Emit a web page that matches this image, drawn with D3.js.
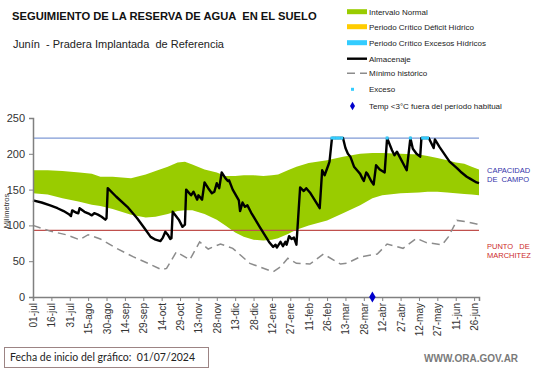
<!DOCTYPE html>
<html><head><meta charset="utf-8">
<script src="https://cdn.jsdelivr.net/npm/d3@7"></script>
<style>
html,body{margin:0;padding:0;background:#fff;}
svg{display:block;font-family:Arial,"Liberation Sans",sans-serif;}
svg text{white-space:pre;}
</style></head>
<body><svg id="c" width="541" height="368"></svg>
<script>
// ---- data ----
const tickDays = [0,15,30,45,60,75,90,105,120,135,150,165,180,195,210,225,240,255,270,285,300,315,330,345,360];
const tickLabels = ["01-jul","16-jul","31-jul","15-ago","30-ago","14-sep","29-sep","14-oct","29-oct","13-nov","28-nov","13-dic","28-dic","12-ene","27-ene","11-feb","26-feb","13-mar","28-mar","12-abr","27-abr","12-may","27-may","11-jun","26-jun"];
const yTicks = [0,50,100,150,200,250];

const bandDays  = [0,12,24,38,48,55,65,80,92,100,110,118,124,130,140,150,157,165,172,180,188,195,200,208,215,225,240,253,267,277,285,300,315,322,330,338,345,352,358,364];
const bandUpper = [177,177,176,174,172,168,168,166,171,176,182,188,189,185,178,174,169,169,170,170,169,170,171,177,182,187,191,196,200,201,201,200,199,197,194,191,188,186,182,178];
const bandLower = [145,143,138,133,129,127,123,115,111,112,116,120,121,121,116,108,100,90,84,80,79,80,82,88,94,100,107,117,128,138,142,145,146,147,147,146,145,144,143,142];

const almDays = [0,7,14,20,25,29,31,32,35,37,38,42,46,48,50,53,56,59,60,61,68,77,85,91,96,100,104,106,108,110,112,113,114,119,122,124,125,129,131,134,135,138,140,143,146,148,150,152,154,157,159,160,163,168,169,171,173,175,178,185,193,196,198,199,202,204,206,207,209,211,213,215,218,221,223,226,234,236,238,241,242,244,253,255,257,259,262,265,267,269,270,272,273,276,278,280,283,287,289,293,295,297,305,308,310,313,316,317,323,327,328,332,338,340,346,349,354,357,362,364];
const almValues = [135,132,128,124,120,116,113,121,118,117,124,119,116,114,117,115,112,108,110,152,140,126,110,96,84,80,78,83,91,87,81,82,119,108,98,101,150,142,147,136,142,136,160,152,145,147,159,152,174,166,162,163,150,135,120,132,126,128,118,98,76,70,73,69,77,71,77,73,85,81,83,73,153,148,152,146,124,177,170,184,189,222,222,208,200,196,182,176,172,165,162,174,172,162,157,184,178,174,222,205,198,203,177,222,207,200,196,222,222,208,220,209,194,189,180,175,168,165,160,159];

const minDays   = [0,14,27,38,45,55,68,82,94,105,109,117,128,136,143,147,153,163,177,185,196,202,208,215,226,237,251,256,267,281,289,302,313,321,334,339,346,354,362,364];
const minValues = [100,92,87,80,87,81,68,56,47,38,40,63,52,77,67,70,74,68,47,42,35,42,54,47,46,60,46,47,56,60,74,68,82,76,73,84,107,105,102,101];

const excesoDays = [244,246,248,250,252,289,308,318,320,322];
const excesoValue = 222;
const tempDays = [277];
const capacidadCampo = 222;
const puntoMarchitez = 93;

const legendItems = ["Intervalo Normal","Periodo Crítico Déficit Hídrico","Periodo Crítico Excesos Hídricos","Almacenaje","Mínimo histórico","Exceso","Temp <3°C fuera del período habitual"];

// ---- drawing ----
const svg = d3.select("#c");
const x = d3.scaleLinear().domain([0,364]).range([33,479]);
const y = d3.scaleLinear().domain([0,250]).range([297,118]);

// band
const band = bandDays.map((d,i)=>({d, u:bandUpper[i], l:bandLower[i]}));
svg.append("path").datum(band)
  .attr("d", d3.area().x(p=>x(p.d)).y0(p=>y(p.l)).y1(p=>y(p.u)))
  .attr("fill","#99cc00");

// reference lines
svg.append("line").attr("x1",x(0)).attr("x2",x(364)).attr("y1",y(capacidadCampo)).attr("y2",y(capacidadCampo))
  .attr("stroke","#7f9ad6").attr("stroke-width",1.2);
svg.append("line").attr("x1",x(0)).attr("x2",x(364)).attr("y1",y(puntoMarchitez)).attr("y2",y(puntoMarchitez))
  .attr("stroke","#c0504d").attr("stroke-width",1.2);

// minimum historic
svg.append("path").datum(minDays.map((d,i)=>[d,minValues[i]]))
  .attr("d", d3.line().x(p=>x(p[0])).y(p=>y(p[1])))
  .attr("fill","none").attr("stroke","#8c8c8c").attr("stroke-width",1.5).attr("stroke-dasharray","8,5");

// almacenaje
svg.append("path").datum(almDays.map((d,i)=>[d,almValues[i]]))
  .attr("d", d3.line().x(p=>x(p[0])).y(p=>y(p[1])))
  .attr("fill","none").attr("stroke","#000").attr("stroke-width",2.4).attr("stroke-linejoin","round");

// exceso markers
svg.selectAll("rect.exc").data(excesoDays).join("rect").attr("class","exc")
  .attr("x",d=>x(d)-1.5).attr("y",y(excesoValue)-1.5).attr("width",3).attr("height",3)
  .attr("fill","#33ccff");

// axes
const yAxis = svg.append("g").attr("transform","translate(33,0)")
  .call(d3.axisLeft(y).tickValues(yTicks).tickSize(4).tickPadding(4));
yAxis.select(".domain").attr("stroke","#808080").attr("stroke-width",1.5);
yAxis.selectAll(".tick line").attr("stroke","#808080");
yAxis.selectAll(".tick text").attr("font-size",11).attr("fill","#333").attr("font-family","Arial,'Liberation Sans',sans-serif");

const xAxis = svg.append("g").attr("transform","translate(0,297)")
  .call(d3.axisBottom(x).tickValues(tickDays).tickSize(4).tickFormat((d,i)=>tickLabels[i]));
xAxis.select(".domain").attr("stroke","#808080").attr("stroke-width",1.5);
xAxis.selectAll(".tick line").attr("stroke","#808080");
xAxis.selectAll(".tick text").attr("font-size",10).attr("fill","#333")
  .attr("font-family","Arial,'Liberation Sans',sans-serif")
  .attr("text-anchor","end").attr("transform","rotate(-90)")
  .attr("x",-6).attr("y",0).attr("dy","0.35em");

// temp diamond
svg.selectAll("path.tmp").data(tempDays).join("path").attr("class","tmp")
  .attr("d", d3.symbol(d3.symbolDiamond, 36)())
  .attr("transform", d=>`translate(${x(d)},${y(0)})`).attr("fill","#0000cc");

// y label
svg.append("text").attr("transform","translate(9,211) rotate(-90)").attr("text-anchor","middle")
  .attr("font-size",7.5).attr("fill","#333").text("Milímetros");

// right labels
const rl = svg.append("g").attr("font-size",7.5);
rl.append("text").attr("x",487).attr("y",173).attr("fill","#3333aa").text("CAPACIDAD");
rl.append("text").attr("x",487).attr("y",182).attr("fill","#3333aa").text("DE  CAMPO");
rl.append("text").attr("x",487).attr("y",249).attr("fill","#cc2a2a").text("PUNTO   DE");
rl.append("text").attr("x",487).attr("y",258).attr("fill","#cc2a2a").text("MARCHITEZ");

// titles
svg.append("text").attr("x",12).attr("y",20).attr("font-size",11.2).attr("font-weight","bold").attr("fill","#111")
  .text("SEGUIMIENTO DE LA RESERVA DE AGUA  EN EL SUELO");
svg.append("text").attr("x",13).attr("y",48).attr("font-size",11).attr("fill","#222")
  .text("Junín  - Pradera Implantada  de Referencia");

// legend
const ly = [11.7,26.7,42.7,58.7,73.3,89.3,106];
const lg = svg.append("g").attr("font-size",8).attr("fill","#222");
legendItems.forEach((t,i)=>{
  lg.append("text").attr("x",369).attr("y",ly[i]).attr("dy","0.35em").text(t);
});
const swColors = ["#99cc00","#ffcc00","#33ccff"];
swColors.forEach((c,i)=>{
  lg.append("rect").attr("x",347).attr("y",ly[i]-2.5).attr("width",20).attr("height",5).attr("fill",c);
});
lg.append("line").attr("x1",347).attr("x2",367).attr("y1",ly[3]).attr("y2",ly[3]).attr("stroke","#000").attr("stroke-width",2.4);
lg.append("line").attr("x1",347).attr("x2",367).attr("y1",ly[4]).attr("y2",ly[4]).attr("stroke","#8c8c8c").attr("stroke-width",1.5).attr("stroke-dasharray","8,5");
lg.append("rect").attr("x",351).attr("y",ly[5]-1.5).attr("width",3).attr("height",3).attr("fill","#33ccff");
lg.append("path").attr("d",d3.symbol(d3.symbolDiamond,22)()).attr("transform",`translate(352.5,${ly[6]})`).attr("fill","#0000cc");

// footer
svg.append("rect").attr("x",4.5).attr("y",347.5).attr("width",204).attr("height",20).attr("fill","#fff").attr("stroke","#9c8484").attr("stroke-width",1);
svg.append("text").attr("x",10).attr("y",361).attr("font-size",10.5).attr("fill","#222").attr("font-family","Lato,'Open Sans',sans-serif")
  .text("Fecha de inicio del gráfico:  01/07/2024");
svg.append("text").attr("x",424).attr("y",362).attr("font-size",10).attr("font-weight","bold").attr("fill","#7a7a7a")
  .text("WWW.ORA.GOV.AR");
</script></body></html>
